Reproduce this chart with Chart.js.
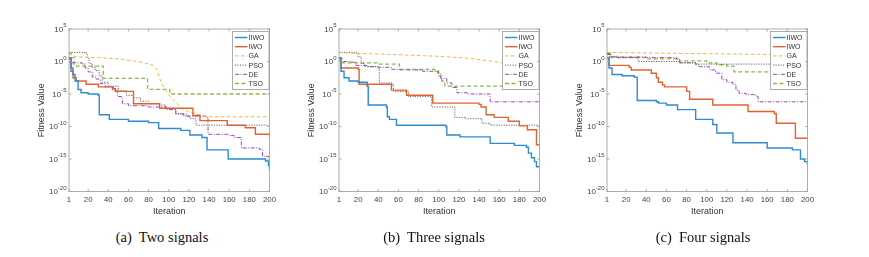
<!DOCTYPE html>
<html>
<head>
<meta charset="utf-8">
<script src="https://cdn.jsdelivr.net/npm/chart.js@4"></script>
<style>
  body { margin: 0; background: #fff; width: 869px; height: 257px; overflow: hidden; position: relative; }
  .panel { position: absolute; top: 0; width: 290px; height: 222px; }
  .cap { position: absolute; top: 229px; line-height: 17px; font: 14.5px "Liberation Serif", "Times New Roman", serif; color: #111; white-space: pre; transform: translateX(-50%); }
</style>
</head>
<body>
<div class="panel" style="left:0"><canvas id="c0" width="290" height="222"></canvas></div>
<div class="panel" style="left:270px"><canvas id="c1" width="290" height="222"></canvas></div>
<div class="panel" style="left:538px"><canvas id="c2" width="290" height="222"></canvas></div>
<div class="cap" style="left:162px">(a)  Two signals</div>
<div class="cap" style="left:434px">(b)  Three signals</div>
<div class="cap" style="left:703px">(c)  Four signals</div>
<script>
// values as [iteration, log10(fitness)]
const algos = ["IIWO", "IWO", "GA", "PSO", "DE", "TSO"];
const xTicks = [1, 20, 40, 60, 80, 100, 120, 140, 160, 180, 200];
const yExponents = [5, 0, -5, -10, -15, -20];

const twoIIWO = [[1,0.5],[3,-1.0],[5,-2.0],[7,-3.0],[10,-4.3],[13,-4.8],[20,-5.0],[30,-5.2],[31,-8.2],[41,-8.9],[60,-9.2],[80,-9.4],[90,-10.3],[112,-10.6],[121,-11.3],[133,-11.7],[138,-13.6],[159,-15.0],[196,-15.3],[199,-16.0],[200,-16.7]];
const twoIWO = [[1,0.6],[3,-1.5],[5,-2.5],[8,-3.0],[18,-3.5],[30,-3.9],[45,-4.2],[47,-4.6],[65,-6.5],[91,-7.2],[124,-8.3],[131,-9.1],[158,-9.8],[176,-10.2],[186,-11.2],[200,-11.6]];
const twoGA = [[1,1.4],[3,0.9],[10,0.7],[30,0.6],[50,0.4],[65,0.1],[78,-0.3],[85,-0.6],[88,-1.2],[90,-2.2],[93,-3.4],[97,-4.4],[101,-5.3],[105,-6.0],[108,-6.5],[112,-7.2],[120,-7.7],[130,-8.2],[138,-8.5],[200,-8.5]];
const twoPSO = [[1,1.4],[17,1.3],[19,0.5],[21,-0.3],[24,-0.9],[27,-1.4],[31,-2.2],[34,-3.2],[40,-3.8],[50,-4.5],[58,-5.2],[65,-5.6],[72,-6.1],[80,-6.5],[90,-6.7],[97,-7.2],[105,-7.4],[107,-8.0],[115,-8.4],[121,-8.8],[127,-9.8],[200,-9.8]];
const twoDE = [[1,0.6],[2,-0.2],[14,-0.4],[17,-1.0],[20,-1.6],[24,-2.4],[28,-2.7],[32,-3.4],[37,-3.9],[44,-4.4],[49,-5.4],[54,-6.5],[60,-6.8],[80,-7.0],[98,-7.4],[107,-8.1],[118,-8.4],[137,-8.6],[139,-11.2],[160,-11.4],[165,-11.7],[172,-13.3],[190,-13.5],[193,-14.6],[200,-14.7]];
const twoTSO = [[1,1.3],[3,0.6],[6,-0.7],[35,-2.6],[79,-4.3],[101,-5.0],[200,-5.0]];

const threeIIWO = [[1,0.5],[3,-1.5],[6,-2.5],[11,-3.0],[20,-3.2],[29,-3.8],[30,-6.7],[48,-7.0],[49,-8.5],[51,-8.9],[58,-9.8],[107,-10.0],[108,-11.3],[121,-11.6],[151,-12.6],[175,-12.9],[187,-13.2],[189,-14.1],[192,-14.8],[195,-15.4],[197,-16.2],[200,-16.2]];
const threeIWO = [[1,0.5],[3,-1.0],[20,-1.2],[21,-3.5],[53,-4.4],[68,-5.2],[94,-6.4],[140,-6.6],[142,-7.0],[147,-8.2],[155,-8.6],[169,-9.2],[180,-9.9],[188,-10.5],[197,-12.8],[200,-12.8]];
const threeGA = [[1,1.4],[10,1.3],[50,1.1],[100,0.8],[130,0.5],[150,0.1],[170,-0.4],[185,-1.0],[195,-2.2],[200,-3.1]];
const threePSO = [[1,1.4],[18,1.3],[20,0.7],[23,-0.3],[26,-0.8],[40,-1.0],[41,-3.3],[54,-3.5],[55,-4.6],[70,-5.4],[93,-7.0],[116,-8.6],[126,-8.8],[143,-9.5],[151,-9.8],[200,-9.8]];
const threeDE = [[1,0.6],[2,0.0],[12,-0.1],[18,-0.6],[30,-0.8],[40,-0.9],[53,-1.2],[62,-1.3],[84,-1.5],[99,-1.8],[102,-2.6],[108,-3.3],[113,-4.0],[118,-4.8],[128,-5.0],[151,-6.2],[200,-6.2]];
const threeTSO = [[1,0.5],[4,-0.2],[40,-0.4],[61,-1.2],[96,-1.5],[100,-2.2],[103,-3.0],[106,-3.8],[200,-3.8]];

const fourIIWO = [[1,0.6],[3,-1.0],[6,-2.0],[16,-2.2],[28,-2.4],[31,-6.0],[50,-6.2],[52,-6.4],[60,-6.7],[71,-7.4],[89,-8.9],[106,-9.7],[110,-11.0],[126,-12.5],[160,-13.3],[185,-13.6],[193,-15.0],[197,-15.4],[200,-15.9]];
const fourIWO = [[1,0.6],[3,-0.6],[23,-0.9],[25,-1.3],[45,-1.8],[50,-2.5],[52,-3.2],[56,-3.6],[58,-3.9],[80,-4.6],[83,-5.8],[106,-6.7],[141,-7.7],[167,-8.0],[169,-9.5],[188,-11.8],[200,-11.8]];
const fourGA = [[1,1.4],[50,1.3],[100,1.2],[150,1.1],[200,1.0]];
const fourPSO = [[1,1.3],[3,0.8],[12,0.6],[32,0.0],[73,-0.2],[90,-0.4],[200,-0.4]];
const fourDE = [[1,1.1],[5,0.7],[40,0.6],[70,0.4],[73,-0.2],[89,-0.5],[92,-0.8],[103,-1.3],[109,-1.8],[115,-2.8],[120,-3.2],[126,-3.5],[129,-4.4],[132,-4.9],[139,-5.1],[149,-5.4],[151,-6.2],[200,-6.2]];
const fourTSO = [[1,1.2],[5,0.6],[40,0.4],[73,0.1],[100,-0.2],[110,-0.5],[120,-0.7],[127,-1.6],[200,-1.6]];

const STYLE = [
  { color: "#2f8bd0", width: 1.4, dash: [], stepped: true },
  { color: "#e2622f", width: 1.4, dash: [], stepped: true },
  { color: "#f0b83a", width: 1, dash: [3.5, 2.5], stepped: false },
  { color: "#555555", width: 0.9, dash: [1.2, 1.3], stepped: true },
  { color: "#9b45b5", width: 1, dash: [4, 1.5, 1, 1.5], stepped: true },
  { color: "#8dbb45", width: 1.3, dash: [4, 2.5], stepped: true }
];
const FONT = "Liberation Sans";
const AXIS = "#9a9a9a";

const frame = {
  id: "frame",
  afterDatasetsDraw(chart) {
    const { ctx, chartArea: a } = chart;
    const w = 37.5, h = 59, x0 = a.right - w, y0 = a.top + 2;
    ctx.save();
    ctx.fillStyle = "#fff"; ctx.fillRect(x0, y0, w, h);
    ctx.strokeStyle = AXIS; ctx.lineWidth = 0.8; ctx.strokeRect(x0 + 0.5, y0 + 0.5, w - 1, h - 1);
    ctx.font = `7px "${FONT}"`; ctx.textBaseline = "middle"; ctx.textAlign = "left";
    chart.data.datasets.forEach((ds, i) => {
      const y = y0 + 6.5 + i * 9.2;
      ctx.strokeStyle = ds.borderColor; ctx.lineWidth = ds.borderWidth; ctx.setLineDash(ds.borderDash);
      ctx.beginPath(); ctx.moveTo(x0 + 3, y); ctx.lineTo(x0 + 15.5, y); ctx.stroke();
      ctx.setLineDash([]);
      ctx.fillStyle = "#333"; ctx.fillText(ds.label, x0 + 16.5, y + 0.5);
    });
    ctx.restore();
  },
  afterDraw(chart) {
    const { ctx, chartArea: a, scales: { x, y } } = chart;
    ctx.save();
    ctx.strokeStyle = AXIS; ctx.lineWidth = 0.8;
    ctx.strokeRect(a.left, a.top, a.right - a.left, a.bottom - a.top);
    ctx.beginPath();
    x.ticks.forEach(t => {
      const px = x.getPixelForValue(t.value);
      ctx.moveTo(px, a.bottom); ctx.lineTo(px, a.bottom - 2.5);
      ctx.moveTo(px, a.top); ctx.lineTo(px, a.top + 2.5);
    });
    y.ticks.forEach(t => {
      const py = y.getPixelForValue(t.value);
      ctx.moveTo(a.left, py); ctx.lineTo(a.left + 2.5, py);
      ctx.moveTo(a.right, py); ctx.lineTo(a.right - 2.5, py);
    });
    ctx.stroke();
    ctx.fillStyle = "#444"; ctx.textBaseline = "middle"; ctx.textAlign = "left";
    yExponents.forEach(e => {
      const py = y.getPixelForValue(10 ** e);
      const sup = String(e);
      ctx.font = `6px "${FONT}"`; const sw = ctx.measureText(sup).width;
      ctx.font = `8px "${FONT}"`; const bw = ctx.measureText("10").width;
      const right = a.left - 2.5;
      ctx.fillText("10", right - sw - bw, py + 0.5);
      ctx.font = `6px "${FONT}"`; ctx.fillText(sup, right - sw, py - 3.2);
    });
    ctx.restore();
  }
};

function makeChart(id, series) {
  new Chart(document.getElementById(id), {
    type: "line",
    data: {
      datasets: algos.map((name, i) => ({
        label: name, data: series[i].map(([it, e]) => ({ x: it, y: 10 ** e })),
        borderColor: STYLE[i].color, borderWidth: STYLE[i].width, borderDash: STYLE[i].dash,
        stepped: STYLE[i].stepped, pointRadius: 0, fill: false, tension: 0
      }))
    },
    options: {
      responsive: false, animation: false, events: [],
      layout: { padding: { top: 29, right: 20.5, left: 0, bottom: 0 } },
      plugins: { legend: { display: false }, tooltip: { enabled: false } },
      scales: {
        x: {
          type: "linear", min: 1, max: 200, grid: { display: false, drawTicks: false }, border: { display: false },
          afterBuildTicks: s => { s.ticks = xTicks.map(v => ({ value: v })) },
          afterFit: s => { s.height = 30.5 },
          ticks: { font: { family: FONT, size: 7.8 }, color: "#444", padding: 4, maxRotation: 0, autoSkip: false },
          title: { display: true, text: "Iteration", font: { family: FONT, size: 9 }, color: "#333", padding: { top: 0, bottom: 5.5 } }
        },
        y: {
          type: "logarithmic", min: 1e-20, max: 1e5, grid: { display: false, drawTicks: false }, border: { display: false },
          afterBuildTicks: s => { s.ticks = yExponents.map(e => ({ value: 10 ** e })) },
          afterFit: s => { s.width = 69 },
          ticks: { display: false },
          title: { display: true, text: "Fitness Value", font: { family: FONT, size: 9 }, color: "#333", padding: { top: 36.3, bottom: 0 } }
        }
      }
    },
    plugins: [frame]
  });
}

makeChart("c0", [twoIIWO, twoIWO, twoGA, twoPSO, twoDE, twoTSO]);
makeChart("c1", [threeIIWO, threeIWO, threeGA, threePSO, threeDE, threeTSO]);
makeChart("c2", [fourIIWO, fourIWO, fourGA, fourPSO, fourDE, fourTSO]);
</script>
</body>
</html>
